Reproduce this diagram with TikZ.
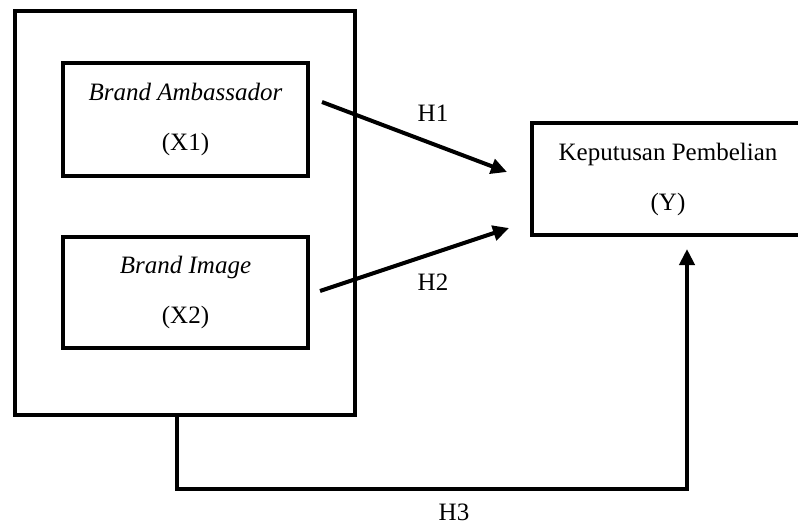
\documentclass[tikz,border=0pt]{standalone}
\usepackage{fontspec}
\setmainfont{Liberation Serif}
\usepackage{tikz}
\usetikzlibrary{arrows.meta}

\tikzset{
  box/.style={draw, line width=2pt, rectangle, inner sep=0pt, align=center,
    font=\fontsize{12.5}{25}\selectfont},
  link/.style={line width=2pt, -{Triangle[length=8pt,width=7.5pt]}},
  hlabel/.style={font=\fontsize{12.5}{15}\selectfont}
}

\begin{document}
\begin{tikzpicture}[x=0.5pt,y=-0.5pt]
%% frame
\useasboundingbox (0,0) rectangle (798,525);
\clip (0,0) rectangle (798,525);
\node[box, minimum width=170pt, minimum height=202pt] (frame) at (185,213) {};
\node[box, minimum width=122.5pt, minimum height=56.5pt] (x1) at (185.5,119.5)
  {\textit{Brand Ambassador}\\(X1)};
\node[box, minimum width=122.5pt, minimum height=55.5pt] (x2) at (185.5,292.5)
  {\textit{Brand Image}\\(X2)};
\node[box, minimum width=136pt, minimum height=56pt] (y) at (668,179)
  {Keputusan Pembelian\\(Y)};
%% arrows
\coordinate (h1s) at (322,102);
\coordinate (h1e) at (507,172);
\coordinate (h2s) at (320,291);
\coordinate (h2e) at (509,228);
\coordinate (h3s) at (177,415);
\coordinate (h3e) at (687,249);
\draw[link] (h1s) -- (h1e);
\draw[link] (h2s) -- (h2e);
\draw[link] (h3s) |- (687,489) -- (h3e);
\node[hlabel] (lh1) at (433,113) {H1};
\node[hlabel] (lh2) at (433,282) {H2};
\node[hlabel] (lh3) at (454,512) {H3};
\end{tikzpicture}
\end{document}
